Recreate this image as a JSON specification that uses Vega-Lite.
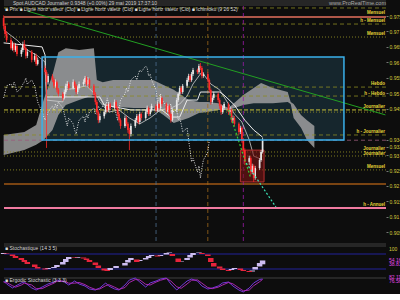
{
"$schema": "https://vega.github.io/schema/vega-lite/v6.json",
"background": "#0d0d0d",
"padding": 0,
"width": 382,
"height": 293,
"view": {"stroke": null},
"resolve": {"scale": {"y": "independent"}},
"data": {"values": [{"v": 0.9776}, {"v": 0.9724}, {"v": 0.952}, {"v": 0.9491}, {"v": 0.9365}]},
"layer": [
  {"data": {"values": [{"d": "2018-12-05T06:00:00Z", "d2": "2019-08-20T10:00:00Z", "v": 0.98018, "v2": 0.97824}]},
   "mark": {"type": "rect", "color": "#262626"},
   "encoding": {"x": {"field": "d", "type": "temporal", "scale": {"domain": [1543989600000, 1566295200000]}, "axis": null}, "x2": {"field": "d2"},
     "y": {"field": "v", "type": "quantitative", "scale": {"domain": [0.88536, 0.98018], "nice": false, "zero": false}, "axis": null}, "y2": {"field": "v2"}}},
  {"data": {"values": [{"d": "2018-12-05T06:00:00Z", "d2": "2019-08-20T10:00:00Z", "v": 0.90154, "v2": 0.90024}, {"d": "2018-12-05T06:00:00Z", "d2": "2019-08-20T10:00:00Z", "v": 0.89056, "v2": 0.88992}]},
   "mark": {"type": "rect", "color": "#262626"},
   "encoding": {"x": {"field": "d", "type": "temporal", "scale": {"domain": [1543989600000, 1566295200000]}, "axis": null}, "x2": {"field": "d2"},
     "y": {"field": "v", "type": "quantitative", "scale": {"domain": [0.88536, 0.98018], "nice": false, "zero": false}, "axis": null}, "y2": {"field": "v2"}}},
  {"data": {"values": [{"d": "2018-12-31", "d2": "2019-07-23", "v": 0.9617, "v2": 0.9349}]},
   "mark": {"type": "rect", "color": "#1f3f4e", "opacity": 0.5},
   "encoding": {"x": {"field": "d", "type": "temporal", "scale": {"domain": [1543989600000, 1566295200000]}, "axis": null}, "x2": {"field": "d2"},
     "y": {"field": "v", "type": "quantitative", "scale": {"domain": [0.88536, 0.98018], "nice": false, "zero": false}, "axis": null}, "y2": {"field": "v2"}}},
  {"data": {"values": [
{"d":"2018-12-05","a":0.9365,"b":0.9300},{"d":"2018-12-19","a":0.9375,"b":0.9316},{"d":"2018-12-27","a":0.9397,"b":0.9333},{"d":"2019-01-01","a":0.9478,"b":0.9349},{"d":"2019-01-07","a":0.9559,"b":0.9381},{"d":"2019-01-11","a":0.9633,"b":0.9430},{"d":"2019-01-16","a":0.9646,"b":0.9462},{"d":"2019-01-25","a":0.9640,"b":0.9478},{"d":"2019-02-04","a":0.9646,"b":0.9494},{"d":"2019-02-06","a":0.9543,"b":0.9494},{"d":"2019-02-10","a":0.9536,"b":0.9462},{"d":"2019-02-17","a":0.9543,"b":0.9456},{"d":"2019-03-03","a":0.9543,"b":0.9452},{"d":"2019-03-16","a":0.9543,"b":0.9452},{"d":"2019-03-23","a":0.9527,"b":0.9430},{"d":"2019-03-30","a":0.9511,"b":0.9404},{"d":"2019-04-09","a":0.9478,"b":0.9420},{"d":"2019-04-16","a":0.9472,"b":0.9436},{"d":"2019-04-22","a":0.9472,"b":0.9439},{"d":"2019-04-29","a":0.9468,"b":0.9446},{"d":"2019-05-06","a":0.9452,"b":0.9446},{"d":"2019-05-16","a":0.9494,"b":0.9462},{"d":"2019-05-23","a":0.9517,"b":0.9468},{"d":"2019-05-28","a":0.9533,"b":0.9468},{"d":"2019-06-05","a":0.9517,"b":0.9468},{"d":"2019-06-15","a":0.9504,"b":0.9472},{"d":"2019-06-17","a":0.9472,"b":0.9465},{"d":"2019-06-19","a":0.9465,"b":0.9420},{"d":"2019-06-24","a":0.9430,"b":0.9388},{"d":"2019-06-28","a":0.9413,"b":0.9349},{"d":"2019-07-03","a":0.9394,"b":0.9323}
   ]},
   "mark": {"type": "area", "color": "#a4a4a4", "opacity": 0.82},
   "encoding": {"x": {"field": "d", "type": "temporal", "scale": {"domain": [1543989600000, 1566295200000]}, "axis": null},
     "y": {"field": "a", "type": "quantitative", "scale": {"domain": [0.88536, 0.98018], "nice": false, "zero": false}, "axis": null}, "y2": {"field": "b"}}},
  {"data": {"values": [{"v": 0.9776}, {"v": 0.9724}, {"v": 0.952}, {"v": 0.9491}, {"v": 0.9365}]},
   "mark": {"type": "rule", "color": "#8c8a22", "strokeDash": [4, 3], "strokeWidth": 0.8},
   "encoding": {"y": {"field": "v", "type": "quantitative", "scale": {"domain": [0.88536, 0.98018], "nice": false, "zero": false},
     "axis": {"orient": "right", "values": [0.975, 0.97, 0.965, 0.96, 0.955, 0.95, 0.945, 0.9349, 0.9327, 0.93, 0.925, 0.92, 0.915, 0.91, 0.905], "format": ".4~f", "labelFontSize": 5, "labelColor": "#d9cc3c", "tickColor": "#777777", "tickSize": 2, "domain": false, "grid": false, "labelPadding": 1, "title": null}}}},
  {"data": {"values": [{"v": 0.9446}]},
   "mark": {"type": "rule", "color": "#c9c23a", "strokeDash": [4, 2], "strokeWidth": 1},
   "encoding": {"y": {"field": "v", "type": "quantitative", "scale": {"domain": [0.88536, 0.98018], "nice": false, "zero": false}, "axis": null}}},
  {"data": {"values": [{"v": 0.9682}, {"v": 0.9439}, {"v": 0.931}, {"v": 0.9297}, {"v": 0.9252}]},
   "mark": {"type": "rule", "color": "#8c8a22", "strokeDash": [1, 2], "strokeWidth": 0.9},
   "encoding": {"y": {"field": "v", "type": "quantitative", "scale": {"domain": [0.88536, 0.98018], "nice": false, "zero": false}, "axis": null}}},
  {"data": {"values": [{"v": 0.9747}]},
   "mark": {"type": "rule", "color": "#e4705e", "strokeWidth": 1.5},
   "encoding": {"y": {"field": "v", "type": "quantitative", "scale": {"domain": [0.88536, 0.98018], "nice": false, "zero": false}, "axis": null}}},
  {"data": {"values": [{"v": 0.9206}]},
   "mark": {"type": "rule", "color": "#7a4412", "strokeWidth": 2},
   "encoding": {"y": {"field": "v", "type": "quantitative", "scale": {"domain": [0.88536, 0.98018], "nice": false, "zero": false}, "axis": null}}},
  {"data": {"values": [{"v": 0.9129}]},
   "mark": {"type": "rule", "color": "#f07aa0", "strokeWidth": 2},
   "encoding": {"y": {"field": "v", "type": "quantitative", "scale": {"domain": [0.88536, 0.98018], "nice": false, "zero": false}, "axis": null}}},
  {"data": {"values": [{"v": 0.9348}]},
   "mark": {"type": "rule", "color": "#9a5a7a", "strokeDash": [4, 3], "strokeWidth": 0.8},
   "encoding": {"y": {"field": "v", "type": "quantitative", "scale": {"domain": [0.88536, 0.98018], "nice": false, "zero": false}, "axis": null}}},
  {"data": {"values": [{"d": "2019-03-18", "v": 0.97824, "v2": 0.90154}]},
   "mark": {"type": "rule", "color": "#4f6f8f", "strokeDash": [4, 3], "strokeWidth": 0.8},
   "encoding": {"x": {"field": "d", "type": "temporal", "scale": {"domain": [1543989600000, 1566295200000]}, "axis": null},
     "y": {"field": "v", "type": "quantitative", "scale": {"domain": [0.88536, 0.98018], "nice": false, "zero": false}, "axis": null}, "y2": {"field": "v2"}}},
  {"data": {"values": [{"d": "2019-04-22", "v": 0.97824, "v2": 0.90154}]},
   "mark": {"type": "rule", "color": "#a06a1c", "strokeDash": [4, 3], "strokeWidth": 0.8},
   "encoding": {"x": {"field": "d", "type": "temporal", "scale": {"domain": [1543989600000, 1566295200000]}, "axis": null},
     "y": {"field": "v", "type": "quantitative", "scale": {"domain": [0.88536, 0.98018], "nice": false, "zero": false}, "axis": null}, "y2": {"field": "v2"}}},
  {"data": {"values": [{"d": "2019-05-16", "v": 0.97824, "v2": 0.90154}]},
   "mark": {"type": "rule", "color": "#9a1aa8", "strokeDash": [4, 3], "strokeWidth": 0.8},
   "encoding": {"x": {"field": "d", "type": "temporal", "scale": {"domain": [1543989600000, 1566295200000]}, "axis": null},
     "y": {"field": "v", "type": "quantitative", "scale": {"domain": [0.88536, 0.98018], "nice": false, "zero": false}, "axis": null}, "y2": {"field": "v2"}}},
  {"data": {"values": [{"d": "2018-12-21", "v": 0.9766}, {"d": "2019-08-20", "v": 0.943}]},
   "mark": {"type": "line", "color": "#22a022", "strokeWidth": 1},
   "encoding": {"x": {"field": "d", "type": "temporal", "scale": {"domain": [1543989600000, 1566295200000]}, "axis": null},
     "y": {"field": "v", "type": "quantitative", "scale": {"domain": [0.88536, 0.98018], "nice": false, "zero": false}, "axis": null}}},
  {"data": {"values": [
{"d":"2018-12-05","v":0.9663},{"d":"2018-12-31","v":0.9650},{"d":"2019-01-02","v":0.9624},{"d":"2019-01-03","v":0.9488},{"d":"2019-02-08","v":0.9488},{"d":"2019-02-11","v":0.9462},{"d":"2019-03-01","v":0.9446},{"d":"2019-03-22","v":0.9446},{"d":"2019-03-28","v":0.9423},{"d":"2019-04-03","v":0.9423},{"d":"2019-04-08","v":0.9478},{"d":"2019-04-15","v":0.9478},{"d":"2019-04-17","v":0.9504},{"d":"2019-04-30","v":0.9504},{"d":"2019-05-03","v":0.9494},{"d":"2019-05-10","v":0.9462},{"d":"2019-05-17","v":0.9413},{"d":"2019-05-23","v":0.9381},{"d":"2019-05-29","v":0.9358}
   ]},
   "mark": {"type": "line", "color": "#ececec", "strokeWidth": 1},
   "encoding": {"x": {"field": "d", "type": "temporal", "scale": {"domain": [1543989600000, 1566295200000]}, "axis": null},
     "y": {"field": "v", "type": "quantitative", "scale": {"domain": [0.88536, 0.98018], "nice": false, "zero": false}, "axis": null}}},
  {"data": {"values": [
{"d":"2018-12-05","v":0.9705},{"d":"2018-12-14","v":0.9672},{"d":"2018-12-21","v":0.9640},{"d":"2018-12-28","v":0.9621},{"d":"2019-01-02","v":0.9601},{"d":"2019-01-03","v":0.9478},{"d":"2019-01-14","v":0.9472},{"d":"2019-01-16","v":0.9511},{"d":"2019-01-23","v":0.9517},{"d":"2019-01-30","v":0.9524},{"d":"2019-02-06","v":0.9491},{"d":"2019-02-08","v":0.9472},{"d":"2019-02-14","v":0.9439},{"d":"2019-02-21","v":0.9446},{"d":"2019-02-28","v":0.9420},{"d":"2019-03-07","v":0.9401},{"d":"2019-03-14","v":0.9420},{"d":"2019-03-21","v":0.9446},{"d":"2019-03-28","v":0.9452},{"d":"2019-04-03","v":0.9465},{"d":"2019-04-08","v":0.9491},{"d":"2019-04-12","v":0.9530},{"d":"2019-04-18","v":0.9569},{"d":"2019-04-24","v":0.9530},{"d":"2019-04-30","v":0.9511},{"d":"2019-05-06","v":0.9465},{"d":"2019-05-10","v":0.9433},{"d":"2019-05-15","v":0.9407},{"d":"2019-05-20","v":0.9349},{"d":"2019-05-23","v":0.9297},{"d":"2019-05-29","v":0.9284}
   ]},
   "mark": {"type": "line", "color": "#cfcfcf", "strokeWidth": 0.8},
   "encoding": {"x": {"field": "d", "type": "temporal", "scale": {"domain": [1543989600000, 1566295200000]}, "axis": null},
     "y": {"field": "v", "type": "quantitative", "scale": {"domain": [0.88536, 0.98018], "nice": false, "zero": false}, "axis": null}}},
  {"data": {"values": [
{"d":"2018-12-05","v":0.9485},{"d":"2018-12-06","v":0.9504},{"d":"2018-12-07","v":0.9524},{"d":"2018-12-10","v":0.9530},{"d":"2018-12-11","v":0.9517},{"d":"2018-12-12","v":0.9536},{"d":"2018-12-13","v":0.9524},{"d":"2018-12-14","v":0.9504},{"d":"2018-12-17","v":0.9517},{"d":"2018-12-18","v":0.9530},{"d":"2018-12-19","v":0.9536},{"d":"2018-12-20","v":0.9549},{"d":"2018-12-21","v":0.9530},{"d":"2018-12-24","v":0.9543},{"d":"2018-12-26","v":0.9524},{"d":"2018-12-27","v":0.9498},{"d":"2018-12-28","v":0.9472},{"d":"2018-12-31","v":0.9439},{"d":"2019-01-02","v":0.9413},{"d":"2019-01-03","v":0.9426},{"d":"2019-01-04","v":0.9439},{"d":"2019-01-07","v":0.9459},{"d":"2019-01-08","v":0.9446},{"d":"2019-01-09","v":0.9465},{"d":"2019-01-10","v":0.9452},{"d":"2019-01-11","v":0.9472},{"d":"2019-01-14","v":0.9452},{"d":"2019-01-15","v":0.9433},{"d":"2019-01-16","v":0.9413},{"d":"2019-01-17","v":0.9394},{"d":"2019-01-18","v":0.9420},{"d":"2019-01-21","v":0.9401},{"d":"2019-01-22","v":0.9381},{"d":"2019-01-23","v":0.9368},{"d":"2019-01-24","v":0.9394},{"d":"2019-01-25","v":0.9413},{"d":"2019-01-28","v":0.9426},{"d":"2019-01-29","v":0.9407},{"d":"2019-01-30","v":0.9433},{"d":"2019-01-31","v":0.9420},{"d":"2019-02-01","v":0.9439},{"d":"2019-02-04","v":0.9452},{"d":"2019-02-05","v":0.9433},{"d":"2019-02-06","v":0.9446},{"d":"2019-02-07","v":0.9459},{"d":"2019-02-08","v":0.9446},{"d":"2019-02-11","v":0.9465},{"d":"2019-02-12","v":0.9452},{"d":"2019-02-13","v":0.9485},{"d":"2019-02-14","v":0.9465},{"d":"2019-02-15","v":0.9446},{"d":"2019-02-18","v":0.9459},{"d":"2019-02-19","v":0.9433},{"d":"2019-02-20","v":0.9413},{"d":"2019-02-21","v":0.9446},{"d":"2019-02-22","v":0.9478},{"d":"2019-02-25","v":0.9498},{"d":"2019-02-26","v":0.9517},{"d":"2019-02-27","v":0.9504},{"d":"2019-02-28","v":0.9524},{"d":"2019-03-01","v":0.9543},{"d":"2019-03-04","v":0.9556},{"d":"2019-03-05","v":0.9543},{"d":"2019-03-06","v":0.9562},{"d":"2019-03-07","v":0.9575},{"d":"2019-03-08","v":0.9569},{"d":"2019-03-11","v":0.9588},{"d":"2019-03-12","v":0.9582},{"d":"2019-03-13","v":0.9556},{"d":"2019-03-14","v":0.9562},{"d":"2019-03-15","v":0.9543},{"d":"2019-03-18","v":0.9511},{"d":"2019-03-19","v":0.9472},{"d":"2019-03-20","v":0.9485},{"d":"2019-03-21","v":0.9498},{"d":"2019-03-22","v":0.9478},{"d":"2019-03-25","v":0.9459},{"d":"2019-03-26","v":0.9439},{"d":"2019-03-27","v":0.9452},{"d":"2019-03-28","v":0.9465},{"d":"2019-03-29","v":0.9439},{"d":"2019-04-01","v":0.9446},{"d":"2019-04-02","v":0.9413},{"d":"2019-04-03","v":0.9420},{"d":"2019-04-04","v":0.9401},{"d":"2019-04-05","v":0.9375},{"d":"2019-04-08","v":0.9388},{"d":"2019-04-09","v":0.9349},{"d":"2019-04-10","v":0.9316},{"d":"2019-04-11","v":0.9278},{"d":"2019-04-12","v":0.9290},{"d":"2019-04-15","v":0.9245},{"d":"2019-04-16","v":0.9265},{"d":"2019-04-17","v":0.9226},{"d":"2019-04-18","v":0.9258},{"d":"2019-04-19","v":0.9284},{"d":"2019-04-22","v":0.9310},{"d":"2019-04-23","v":0.9348}
   ]},
   "mark": {"type": "line", "color": "#e6e6e6", "strokeWidth": 1, "strokeDash": [1, 1.5]},
   "encoding": {"x": {"field": "d", "type": "temporal", "scale": {"domain": [1543989600000, 1566295200000]}, "axis": null},
     "y": {"field": "v", "type": "quantitative", "scale": {"domain": [0.88536, 0.98018], "nice": false, "zero": false}, "axis": null}}},
  {"data": {"values": [{"d": "2019-05-14", "d2": "2019-05-30", "v": 0.9316, "v2": 0.9213}]},
   "mark": {"type": "rect", "fill": "#7a1414", "fillOpacity": 0.6, "stroke": "#b83030", "strokeWidth": 1},
   "encoding": {"x": {"field": "d", "type": "temporal", "scale": {"domain": [1543989600000, 1566295200000]}, "axis": null}, "x2": {"field": "d2"},
     "y": {"field": "v", "type": "quantitative", "scale": {"domain": [0.88536, 0.98018], "nice": false, "zero": false}, "axis": null}, "y2": {"field": "v2"}}},
  {"data": {"values": [
{"d":"2018-12-11","o":0.9646,"h":0.9668,"l":0.9638,"c":0.9659},{"d":"2018-12-13","o":0.9640,"h":0.9662,"l":0.9634,"c":0.9653},{"d":"2018-12-17","o":0.9627,"h":0.9648,"l":0.9618,"c":0.9640},{"d":"2018-12-18","o":0.9640,"h":0.9667,"l":0.9633,"c":0.9659},{"d":"2018-12-21","o":0.9621,"h":0.9643,"l":0.9614,"c":0.9634},{"d":"2018-12-26","o":0.9608,"h":0.9630,"l":0.9602,"c":0.9621},{"d":"2018-12-28","o":0.9595,"h":0.9616,"l":0.9590,"c":0.9608},{"d":"2019-01-04","o":0.9536,"h":0.9563,"l":0.9528,"c":0.9556},{"d":"2019-01-09","o":0.9524,"h":0.9545,"l":0.9518,"c":0.9536},{"d":"2019-01-15","o":0.9485,"h":0.9512,"l":0.9480,"c":0.9504},{"d":"2019-01-16","o":0.9504,"h":0.9531,"l":0.9498,"c":0.9524},{"d":"2019-01-17","o":0.9524,"h":0.9540,"l":0.9516,"c":0.9530},{"d":"2019-01-21","o":0.9517,"h":0.9545,"l":0.9512,"c":0.9536},{"d":"2019-01-24","o":0.9504,"h":0.9525,"l":0.9498,"c":0.9517},{"d":"2019-01-25","o":0.9517,"h":0.9538,"l":0.9512,"c":0.9530},{"d":"2019-01-28","o":0.9530,"h":0.9545,"l":0.9524,"c":0.9536},{"d":"2019-01-29","o":0.9536,"h":0.9556,"l":0.9530,"c":0.9549},{"d":"2019-01-31","o":0.9530,"h":0.9552,"l":0.9525,"c":0.9543},{"d":"2019-02-08","o":0.9413,"h":0.9434,"l":0.9405,"c":0.9426},{"d":"2019-02-11","o":0.9426,"h":0.9447,"l":0.9418,"c":0.9439},{"d":"2019-02-12","o":0.9439,"h":0.9467,"l":0.9432,"c":0.9459},{"d":"2019-02-14","o":0.9446,"h":0.9472,"l":0.9440,"c":0.9465},{"d":"2019-02-18","o":0.9452,"h":0.9480,"l":0.9447,"c":0.9472},{"d":"2019-02-25","o":0.9394,"h":0.9428,"l":0.9388,"c":0.9420},{"d":"2019-03-01","o":0.9368,"h":0.9402,"l":0.9360,"c":0.9394},{"d":"2019-03-04","o":0.9394,"h":0.9420,"l":0.9388,"c":0.9413},{"d":"2019-03-05","o":0.9413,"h":0.9433,"l":0.9406,"c":0.9426},{"d":"2019-03-07","o":0.9407,"h":0.9440,"l":0.9400,"c":0.9433},{"d":"2019-03-11","o":0.9420,"h":0.9446,"l":0.9414,"c":0.9439},{"d":"2019-03-12","o":0.9439,"h":0.9460,"l":0.9433,"c":0.9452},{"d":"2019-03-14","o":0.9433,"h":0.9453,"l":0.9427,"c":0.9446},{"d":"2019-03-15","o":0.9446,"h":0.9466,"l":0.9440,"c":0.9459},{"d":"2019-03-19","o":0.9446,"h":0.9472,"l":0.9440,"c":0.9465},{"d":"2019-03-21","o":0.9452,"h":0.9492,"l":0.9446,"c":0.9485},{"d":"2019-03-26","o":0.9446,"h":0.9466,"l":0.9440,"c":0.9459},{"d":"2019-03-29","o":0.9413,"h":0.9452,"l":0.9408,"c":0.9446},{"d":"2019-04-01","o":0.9446,"h":0.9485,"l":0.9440,"c":0.9478},{"d":"2019-04-02","o":0.9478,"h":0.9505,"l":0.9472,"c":0.9498},{"d":"2019-04-03","o":0.9498,"h":0.9524,"l":0.9492,"c":0.9517},{"d":"2019-04-05","o":0.9504,"h":0.9530,"l":0.9498,"c":0.9524},{"d":"2019-04-08","o":0.9524,"h":0.9550,"l":0.9518,"c":0.9543},{"d":"2019-04-09","o":0.9543,"h":0.9563,"l":0.9537,"c":0.9556},{"d":"2019-04-11","o":0.9543,"h":0.9569,"l":0.9537,"c":0.9562},{"d":"2019-04-12","o":0.9562,"h":0.9582,"l":0.9556,"c":0.9575},{"d":"2019-04-16","o":0.9569,"h":0.9595,"l":0.9563,"c":0.9588},{"d":"2019-04-19","o":0.9556,"h":0.9568,"l":0.9550,"c":0.9562},{"d":"2019-04-25","o":0.9472,"h":0.9493,"l":0.9466,"c":0.9485},{"d":"2019-04-26","o":0.9485,"h":0.9505,"l":0.9478,"c":0.9498},{"d":"2019-05-02","o":0.9439,"h":0.9460,"l":0.9433,"c":0.9452},{"d":"2019-05-03","o":0.9452,"h":0.9472,"l":0.9446,"c":0.9465},{"d":"2019-05-07","o":0.9439,"h":0.9453,"l":0.9432,"c":0.9446},{"d":"2019-05-09","o":0.9413,"h":0.9428,"l":0.9404,"c":0.9420},{"d":"2019-05-14","o":0.9375,"h":0.9395,"l":0.9368,"c":0.9388},{"d":"2019-05-20","o":0.9278,"h":0.9298,"l":0.9268,"c":0.9290},{"d":"2019-05-22","o":0.9245,"h":0.9272,"l":0.9238,"c":0.9265},{"d":"2019-05-24","o":0.9226,"h":0.9265,"l":0.9220,"c":0.9258},{"d":"2019-05-27","o":0.9258,"h":0.9290,"l":0.9252,"c":0.9284},{"d":"2019-05-28","o":0.9284,"h":0.9316,"l":0.9278,"c":0.9310},{"d":"2019-05-29","o":0.9310,"h":0.9356,"l":0.9305,"c":0.9348}
   ]},
   "mark": {"type": "rule", "color": "#e8e8e8", "strokeWidth": 0.8},
   "encoding": {"x": {"field": "d", "type": "temporal", "scale": {"domain": [1543989600000, 1566295200000]}, "axis": null},
     "y": {"field": "l", "type": "quantitative", "scale": {"domain": [0.88536, 0.98018], "nice": false, "zero": false}, "axis": null}, "y2": {"field": "h"}}},
  {"data": {"values": [
{"d":"2018-12-11","o":0.9646,"c":0.9659},{"d":"2018-12-13","o":0.9640,"c":0.9653},{"d":"2018-12-17","o":0.9627,"c":0.9640},{"d":"2018-12-18","o":0.9640,"c":0.9659},{"d":"2018-12-21","o":0.9621,"c":0.9634},{"d":"2018-12-26","o":0.9608,"c":0.9621},{"d":"2018-12-28","o":0.9595,"c":0.9608},{"d":"2019-01-04","o":0.9536,"c":0.9556},{"d":"2019-01-09","o":0.9524,"c":0.9536},{"d":"2019-01-15","o":0.9485,"c":0.9504},{"d":"2019-01-16","o":0.9504,"c":0.9524},{"d":"2019-01-17","o":0.9524,"c":0.9530},{"d":"2019-01-21","o":0.9517,"c":0.9536},{"d":"2019-01-24","o":0.9504,"c":0.9517},{"d":"2019-01-25","o":0.9517,"c":0.9530},{"d":"2019-01-28","o":0.9530,"c":0.9536},{"d":"2019-01-29","o":0.9536,"c":0.9549},{"d":"2019-01-31","o":0.9530,"c":0.9543},{"d":"2019-02-08","o":0.9413,"c":0.9426},{"d":"2019-02-11","o":0.9426,"c":0.9439},{"d":"2019-02-12","o":0.9439,"c":0.9459},{"d":"2019-02-14","o":0.9446,"c":0.9465},{"d":"2019-02-18","o":0.9452,"c":0.9472},{"d":"2019-02-25","o":0.9394,"c":0.9420},{"d":"2019-03-01","o":0.9368,"c":0.9394},{"d":"2019-03-04","o":0.9394,"c":0.9413},{"d":"2019-03-05","o":0.9413,"c":0.9426},{"d":"2019-03-07","o":0.9407,"c":0.9433},{"d":"2019-03-11","o":0.9420,"c":0.9439},{"d":"2019-03-12","o":0.9439,"c":0.9452},{"d":"2019-03-14","o":0.9433,"c":0.9446},{"d":"2019-03-15","o":0.9446,"c":0.9459},{"d":"2019-03-19","o":0.9446,"c":0.9465},{"d":"2019-03-21","o":0.9452,"c":0.9485},{"d":"2019-03-26","o":0.9446,"c":0.9459},{"d":"2019-03-29","o":0.9413,"c":0.9446},{"d":"2019-04-01","o":0.9446,"c":0.9478},{"d":"2019-04-02","o":0.9478,"c":0.9498},{"d":"2019-04-03","o":0.9498,"c":0.9517},{"d":"2019-04-05","o":0.9504,"c":0.9524},{"d":"2019-04-08","o":0.9524,"c":0.9543},{"d":"2019-04-09","o":0.9543,"c":0.9556},{"d":"2019-04-11","o":0.9543,"c":0.9562},{"d":"2019-04-12","o":0.9562,"c":0.9575},{"d":"2019-04-16","o":0.9569,"c":0.9588},{"d":"2019-04-19","o":0.9556,"c":0.9562},{"d":"2019-04-25","o":0.9472,"c":0.9485},{"d":"2019-04-26","o":0.9485,"c":0.9498},{"d":"2019-05-02","o":0.9439,"c":0.9452},{"d":"2019-05-03","o":0.9452,"c":0.9465},{"d":"2019-05-07","o":0.9439,"c":0.9446},{"d":"2019-05-09","o":0.9413,"c":0.9420},{"d":"2019-05-14","o":0.9375,"c":0.9388},{"d":"2019-05-20","o":0.9278,"c":0.9290},{"d":"2019-05-22","o":0.9245,"c":0.9265},{"d":"2019-05-24","o":0.9226,"c":0.9258},{"d":"2019-05-27","o":0.9258,"c":0.9284},{"d":"2019-05-28","o":0.9284,"c":0.9310},{"d":"2019-05-29","o":0.9310,"c":0.9348}
   ]},
   "mark": {"type": "rule", "color": "#e8e8e8", "strokeWidth": 1.7},
   "encoding": {"x": {"field": "d", "type": "temporal", "scale": {"domain": [1543989600000, 1566295200000]}, "axis": null},
     "y": {"field": "o", "type": "quantitative", "scale": {"domain": [0.88536, 0.98018], "nice": false, "zero": false}, "axis": null}, "y2": {"field": "c"}}},
  {"data": {"values": [
{"d":"2018-12-05","o":0.9744,"h":0.9752,"l":0.9708,"c":0.9718},{"d":"2018-12-06","o":0.9718,"h":0.9724,"l":0.9684,"c":0.9692},{"d":"2018-12-07","o":0.9692,"h":0.9701,"l":0.9665,"c":0.9672},{"d":"2018-12-10","o":0.9672,"h":0.9679,"l":0.9640,"c":0.9646},{"d":"2018-12-12","o":0.9659,"h":0.9665,"l":0.9632,"c":0.9640},{"d":"2018-12-14","o":0.9653,"h":0.9658,"l":0.9620,"c":0.9627},{"d":"2018-12-19","o":0.9659,"h":0.9672,"l":0.9640,"c":0.9646},{"d":"2018-12-20","o":0.9646,"h":0.9652,"l":0.9612,"c":0.9621},{"d":"2018-12-24","o":0.9634,"h":0.9640,"l":0.9600,"c":0.9608},{"d":"2018-12-27","o":0.9621,"h":0.9628,"l":0.9588,"c":0.9595},{"d":"2018-12-31","o":0.9608,"h":0.9612,"l":0.9575,"c":0.9582},{"d":"2019-01-02","o":0.9582,"h":0.9590,"l":0.9560,"c":0.9569},{"d":"2019-01-03","o":0.9569,"h":0.9575,"l":0.9323,"c":0.9536},{"d":"2019-01-07","o":0.9556,"h":0.9562,"l":0.9536,"c":0.9543},{"d":"2019-01-08","o":0.9543,"h":0.9550,"l":0.9516,"c":0.9524},{"d":"2019-01-10","o":0.9536,"h":0.9541,"l":0.9503,"c":0.9511},{"d":"2019-01-11","o":0.9511,"h":0.9517,"l":0.9490,"c":0.9498},{"d":"2019-01-14","o":0.9498,"h":0.9504,"l":0.9476,"c":0.9485},{"d":"2019-01-18","o":0.9530,"h":0.9536,"l":0.9510,"c":0.9517},{"d":"2019-01-22","o":0.9536,"h":0.9541,"l":0.9517,"c":0.9524},{"d":"2019-01-23","o":0.9524,"h":0.9530,"l":0.9496,"c":0.9504},{"d":"2019-01-30","o":0.9549,"h":0.9555,"l":0.9523,"c":0.9530},{"d":"2019-02-01","o":0.9543,"h":0.9548,"l":0.9516,"c":0.9524},{"d":"2019-02-04","o":0.9524,"h":0.9530,"l":0.9490,"c":0.9498},{"d":"2019-02-05","o":0.9498,"h":0.9504,"l":0.9463,"c":0.9472},{"d":"2019-02-06","o":0.9472,"h":0.9478,"l":0.9430,"c":0.9439},{"d":"2019-02-07","o":0.9439,"h":0.9445,"l":0.9403,"c":0.9413},{"d":"2019-02-13","o":0.9459,"h":0.9466,"l":0.9438,"c":0.9446},{"d":"2019-02-15","o":0.9465,"h":0.9470,"l":0.9445,"c":0.9452},{"d":"2019-02-19","o":0.9472,"h":0.9478,"l":0.9444,"c":0.9452},{"d":"2019-02-20","o":0.9452,"h":0.9458,"l":0.9425,"c":0.9433},{"d":"2019-02-21","o":0.9433,"h":0.9440,"l":0.9405,"c":0.9413},{"d":"2019-02-22","o":0.9413,"h":0.9419,"l":0.9385,"c":0.9394},{"d":"2019-02-26","o":0.9420,"h":0.9426,"l":0.9393,"c":0.9401},{"d":"2019-02-27","o":0.9401,"h":0.9407,"l":0.9372,"c":0.9381},{"d":"2019-02-28","o":0.9381,"h":0.9388,"l":0.9316,"c":0.9368},{"d":"2019-03-06","o":0.9426,"h":0.9432,"l":0.9400,"c":0.9407},{"d":"2019-03-08","o":0.9433,"h":0.9438,"l":0.9412,"c":0.9420},{"d":"2019-03-13","o":0.9452,"h":0.9457,"l":0.9426,"c":0.9433},{"d":"2019-03-18","o":0.9459,"h":0.9465,"l":0.9439,"c":0.9446},{"d":"2019-03-20","o":0.9465,"h":0.9470,"l":0.9445,"c":0.9452},{"d":"2019-03-22","o":0.9485,"h":0.9490,"l":0.9457,"c":0.9465},{"d":"2019-03-25","o":0.9465,"h":0.9470,"l":0.9438,"c":0.9446},{"d":"2019-03-27","o":0.9459,"h":0.9464,"l":0.9425,"c":0.9433},{"d":"2019-03-28","o":0.9433,"h":0.9438,"l":0.9405,"c":0.9413},{"d":"2019-04-04","o":0.9517,"h":0.9522,"l":0.9497,"c":0.9504},{"d":"2019-04-10","o":0.9556,"h":0.9562,"l":0.9536,"c":0.9543},{"d":"2019-04-15","o":0.9575,"h":0.9580,"l":0.9562,"c":0.9569},{"d":"2019-04-17","o":0.9588,"h":0.9598,"l":0.9575,"c":0.9582},{"d":"2019-04-18","o":0.9582,"h":0.9588,"l":0.9548,"c":0.9556},{"d":"2019-04-22","o":0.9562,"h":0.9568,"l":0.9536,"c":0.9543},{"d":"2019-04-23","o":0.9543,"h":0.9548,"l":0.9503,"c":0.9511},{"d":"2019-04-24","o":0.9511,"h":0.9516,"l":0.9463,"c":0.9472},{"d":"2019-04-29","o":0.9498,"h":0.9503,"l":0.9471,"c":0.9478},{"d":"2019-04-30","o":0.9478,"h":0.9484,"l":0.9450,"c":0.9459},{"d":"2019-05-01","o":0.9459,"h":0.9465,"l":0.9430,"c":0.9439},{"d":"2019-05-06","o":0.9465,"h":0.9470,"l":0.9430,"c":0.9439},{"d":"2019-05-08","o":0.9446,"h":0.9451,"l":0.9405,"c":0.9413},{"d":"2019-05-10","o":0.9420,"h":0.9426,"l":0.9393,"c":0.9401},{"d":"2019-05-13","o":0.9401,"h":0.9406,"l":0.9366,"c":0.9375},{"d":"2019-05-15","o":0.9388,"h":0.9393,"l":0.9340,"c":0.9349},{"d":"2019-05-16","o":0.9349,"h":0.9355,"l":0.9307,"c":0.9316},{"d":"2019-05-17","o":0.9316,"h":0.9322,"l":0.9268,"c":0.9278},{"d":"2019-05-21","o":0.9290,"h":0.9296,"l":0.9236,"c":0.9245},{"d":"2019-05-23","o":0.9265,"h":0.9270,"l":0.9213,"c":0.9226}
   ]},
   "mark": {"type": "rule", "color": "#ff2a2a", "strokeWidth": 0.8},
   "encoding": {"x": {"field": "d", "type": "temporal", "scale": {"domain": [1543989600000, 1566295200000]}, "axis": null},
     "y": {"field": "l", "type": "quantitative", "scale": {"domain": [0.88536, 0.98018], "nice": false, "zero": false}, "axis": null}, "y2": {"field": "h"}}},
  {"data": {"values": [
{"d":"2018-12-05","o":0.9744,"c":0.9718},{"d":"2018-12-06","o":0.9718,"c":0.9692},{"d":"2018-12-07","o":0.9692,"c":0.9672},{"d":"2018-12-10","o":0.9672,"c":0.9646},{"d":"2018-12-12","o":0.9659,"c":0.9640},{"d":"2018-12-14","o":0.9653,"c":0.9627},{"d":"2018-12-19","o":0.9659,"c":0.9646},{"d":"2018-12-20","o":0.9646,"c":0.9621},{"d":"2018-12-24","o":0.9634,"c":0.9608},{"d":"2018-12-27","o":0.9621,"c":0.9595},{"d":"2018-12-31","o":0.9608,"c":0.9582},{"d":"2019-01-02","o":0.9582,"c":0.9569},{"d":"2019-01-03","o":0.9569,"c":0.9536},{"d":"2019-01-07","o":0.9556,"c":0.9543},{"d":"2019-01-08","o":0.9543,"c":0.9524},{"d":"2019-01-10","o":0.9536,"c":0.9511},{"d":"2019-01-11","o":0.9511,"c":0.9498},{"d":"2019-01-14","o":0.9498,"c":0.9485},{"d":"2019-01-18","o":0.9530,"c":0.9517},{"d":"2019-01-22","o":0.9536,"c":0.9524},{"d":"2019-01-23","o":0.9524,"c":0.9504},{"d":"2019-01-30","o":0.9549,"c":0.9530},{"d":"2019-02-01","o":0.9543,"c":0.9524},{"d":"2019-02-04","o":0.9524,"c":0.9498},{"d":"2019-02-05","o":0.9498,"c":0.9472},{"d":"2019-02-06","o":0.9472,"c":0.9439},{"d":"2019-02-07","o":0.9439,"c":0.9413},{"d":"2019-02-13","o":0.9459,"c":0.9446},{"d":"2019-02-15","o":0.9465,"c":0.9452},{"d":"2019-02-19","o":0.9472,"c":0.9452},{"d":"2019-02-20","o":0.9452,"c":0.9433},{"d":"2019-02-21","o":0.9433,"c":0.9413},{"d":"2019-02-22","o":0.9413,"c":0.9394},{"d":"2019-02-26","o":0.9420,"c":0.9401},{"d":"2019-02-27","o":0.9401,"c":0.9381},{"d":"2019-02-28","o":0.9381,"c":0.9368},{"d":"2019-03-06","o":0.9426,"c":0.9407},{"d":"2019-03-08","o":0.9433,"c":0.9420},{"d":"2019-03-13","o":0.9452,"c":0.9433},{"d":"2019-03-18","o":0.9459,"c":0.9446},{"d":"2019-03-20","o":0.9465,"c":0.9452},{"d":"2019-03-22","o":0.9485,"c":0.9465},{"d":"2019-03-25","o":0.9465,"c":0.9446},{"d":"2019-03-27","o":0.9459,"c":0.9433},{"d":"2019-03-28","o":0.9433,"c":0.9413},{"d":"2019-04-04","o":0.9517,"c":0.9504},{"d":"2019-04-10","o":0.9556,"c":0.9543},{"d":"2019-04-15","o":0.9575,"c":0.9569},{"d":"2019-04-17","o":0.9588,"c":0.9582},{"d":"2019-04-18","o":0.9582,"c":0.9556},{"d":"2019-04-22","o":0.9562,"c":0.9543},{"d":"2019-04-23","o":0.9543,"c":0.9511},{"d":"2019-04-24","o":0.9511,"c":0.9472},{"d":"2019-04-29","o":0.9498,"c":0.9478},{"d":"2019-04-30","o":0.9478,"c":0.9459},{"d":"2019-05-01","o":0.9459,"c":0.9439},{"d":"2019-05-06","o":0.9465,"c":0.9439},{"d":"2019-05-08","o":0.9446,"c":0.9413},{"d":"2019-05-10","o":0.9420,"c":0.9401},{"d":"2019-05-13","o":0.9401,"c":0.9375},{"d":"2019-05-15","o":0.9388,"c":0.9349},{"d":"2019-05-16","o":0.9349,"c":0.9316},{"d":"2019-05-17","o":0.9316,"c":0.9278},{"d":"2019-05-21","o":0.9290,"c":0.9245},{"d":"2019-05-23","o":0.9265,"c":0.9226}
   ]},
   "mark": {"type": "rule", "color": "#ff2a2a", "strokeWidth": 1.7},
   "encoding": {"x": {"field": "d", "type": "temporal", "scale": {"domain": [1543989600000, 1566295200000]}, "axis": null},
     "y": {"field": "o", "type": "quantitative", "scale": {"domain": [0.88536, 0.98018], "nice": false, "zero": false}, "axis": null}, "y2": {"field": "c"}}},
  {"data": {"values": [{"d": "2019-05-06", "v": 0.9446}, {"d": "2019-05-21", "v": 0.9226}]},
   "mark": {"type": "line", "color": "#30d030", "strokeWidth": 1.2, "strokeDash": [2, 2]},
   "encoding": {"x": {"field": "d", "type": "temporal", "scale": {"domain": [1543989600000, 1566295200000]}, "axis": null},
     "y": {"field": "v", "type": "quantitative", "scale": {"domain": [0.88536, 0.98018], "nice": false, "zero": false}, "axis": null}}},
  {"data": {"values": [{"d": "2019-05-18", "v": 0.9274}, {"d": "2019-06-07", "v": 0.9132}]},
   "mark": {"type": "line", "color": "#3ce0b4", "strokeWidth": 1.2, "strokeDash": [2, 2]},
   "encoding": {"x": {"field": "d", "type": "temporal", "scale": {"domain": [1543989600000, 1566295200000]}, "axis": null},
     "y": {"field": "v", "type": "quantitative", "scale": {"domain": [0.88536, 0.98018], "nice": false, "zero": false}, "axis": null}}},
  {"data": {"values": [{"d": "2018-12-31", "d2": "2019-07-23", "v": 0.9617, "v2": 0.9349}]},
   "mark": {"type": "rect", "fillOpacity": 0, "stroke": "#3ab0ea", "strokeWidth": 1.5},
   "encoding": {"x": {"field": "d", "type": "temporal", "scale": {"domain": [1543989600000, 1566295200000]}, "axis": null}, "x2": {"field": "d2"},
     "y": {"field": "v", "type": "quantitative", "scale": {"domain": [0.88536, 0.98018], "nice": false, "zero": false}, "axis": null}, "y2": {"field": "v2"}}},
  {"data": {"values": [{"d": "2019-08-20T10:00:00Z", "v": 0.9761, "t": "Mensuel"}, {"d": "2019-08-20T10:00:00Z", "v": 0.9734, "t": "h - Mensuel"}, {"d": "2019-08-20T10:00:00Z", "v": 0.9692, "t": "Mensuel"}, {"d": "2019-08-20T10:00:00Z", "v": 0.953, "t": "Hebdo"}, {"d": "2019-08-20T10:00:00Z", "v": 0.9498, "t": "h - Hebdo"}, {"d": "2019-08-20T10:00:00Z", "v": 0.9455, "t": "Journalier"}, {"d": "2019-08-20T10:00:00Z", "v": 0.9375, "t": "h - Journalier"}, {"d": "2019-08-20T10:00:00Z", "v": 0.932, "t": "Journalier"}, {"d": "2019-08-20T10:00:00Z", "v": 0.9303, "t": "Journalier"}, {"d": "2019-08-20T10:00:00Z", "v": 0.9261, "t": "Mensuel"}, {"d": "2019-08-20T10:00:00Z", "v": 0.9138, "t": "h - Annuel"}]},
   "mark": {"type": "text", "align": "right", "baseline": "middle", "fontSize": 4.5, "fontWeight": "bold", "color": "#e8d838", "dx": -1},
   "encoding": {"x": {"field": "d", "type": "temporal", "scale": {"domain": [1543989600000, 1566295200000]}, "axis": null},
     "y": {"field": "v", "type": "quantitative", "scale": {"domain": [0.88536, 0.98018], "nice": false, "zero": false}, "axis": null}, "text": {"field": "t", "type": "nominal"}}},
  {"data": {"values": [{"d": "2018-12-05T06:00:00Z", "v": 0.98018, "t": "Spot AUDCAD Journalier 0.9348 (+0.00%) 29 mai 2019 17:37:10"}]},
   "mark": {"type": "text", "align": "left", "baseline": "top", "fontSize": 5, "color": "#cfcfcf", "dx": 9, "dy": 0.5},
   "encoding": {"x": {"field": "d", "type": "temporal", "scale": {"domain": [1543989600000, 1566295200000]}, "axis": null},
     "y": {"field": "v", "type": "quantitative", "scale": {"domain": [0.88536, 0.98018], "nice": false, "zero": false}, "axis": null}, "text": {"field": "t", "type": "nominal"}}},
  {"data": {"values": [{"d": "2019-08-20T10:00:00Z", "v": 0.98018, "t": "www.ProRealTime.com"}]},
   "mark": {"type": "text", "align": "right", "baseline": "top", "fontSize": 5.5, "color": "#a8a8a8", "dy": 0.5},
   "encoding": {"x": {"field": "d", "type": "temporal", "scale": {"domain": [1543989600000, 1566295200000]}, "axis": null},
     "y": {"field": "v", "type": "quantitative", "scale": {"domain": [0.88536, 0.98018], "nice": false, "zero": false}, "axis": null}, "text": {"field": "t", "type": "nominal"}}},
  {"data": {"values": [{"d": "2018-12-05T06:00:00Z", "v": 0.97824, "t": "■ Prix   ■ Ligne horiz valeur (Clo)   ■ Ligne horiz valeur (Clo)   ■ Ligne horiz valeur (Clo)   ■ Ichimoku (9 26 52)"}]},
   "mark": {"type": "text", "align": "left", "baseline": "top", "fontSize": 5, "color": "#d8d8d8", "dx": 1, "dy": 1},
   "encoding": {"x": {"field": "d", "type": "temporal", "scale": {"domain": [1543989600000, 1566295200000]}, "axis": null},
     "y": {"field": "v", "type": "quantitative", "scale": {"domain": [0.88536, 0.98018], "nice": false, "zero": false}, "axis": null}, "text": {"field": "t", "type": "nominal"}}},
  {"data": {"values": [{"v": 80}, {"v": 20}]},
   "mark": {"type": "rule", "color": "#23239a", "strokeWidth": 1},
   "encoding": {"y": {"field": "v", "type": "quantitative", "scale": {"domain": [-76, 1096], "nice": false, "zero": false}, "axis": null}}},
  {"data": {"values": [
{"d":"2018-12-05","k":84,"dd":80},{"d":"2019-01-04","k":24,"dd":20},{"d":"2019-01-08","k":28,"dd":24},{"d":"2019-01-10","k":36,"dd":28},{"d":"2019-01-14","k":48,"dd":38},{"d":"2019-01-16","k":60,"dd":48},{"d":"2019-01-18","k":68,"dd":60},{"d":"2019-01-24","k":68,"dd":65},{"d":"2019-02-15","k":24,"dd":16},{"d":"2019-02-19","k":32,"dd":24},{"d":"2019-02-21","k":30,"dd":30},{"d":"2019-02-25","k":44,"dd":34},{"d":"2019-02-27","k":56,"dd":46},{"d":"2019-03-01","k":64,"dd":56},{"d":"2019-03-07","k":56,"dd":52},{"d":"2019-03-11","k":64,"dd":58},{"d":"2019-03-13","k":72,"dd":64},{"d":"2019-03-15","k":76,"dd":72},{"d":"2019-03-21","k":76,"dd":72},{"d":"2019-03-25","k":84,"dd":78},{"d":"2019-03-27","k":86,"dd":84},{"d":"2019-04-04","k":52,"dd":50},{"d":"2019-04-08","k":64,"dd":56},{"d":"2019-04-10","k":76,"dd":66},{"d":"2019-04-12","k":84,"dd":76},{"d":"2019-04-16","k":86,"dd":84},{"d":"2019-05-08","k":20,"dd":16},{"d":"2019-05-10","k":24,"dd":20},{"d":"2019-05-22","k":14,"dd":10},{"d":"2019-05-24","k":28,"dd":18},{"d":"2019-05-27","k":44,"dd":30},{"d":"2019-05-29","k":54.169,"dd":38.815}
   ]},
   "mark": {"type": "rule", "color": "#cdbdf0", "strokeWidth": 5.5},
   "encoding": {"x": {"field": "d", "type": "temporal", "scale": {"domain": [1543989600000, 1566295200000]}, "axis": null},
     "y": {"field": "k", "type": "quantitative", "scale": {"domain": [-76, 1096], "nice": false, "zero": false}, "axis": null}, "y2": {"field": "dd"}}},
  {"data": {"values": [
{"d":"2018-12-07","k":80,"dd":82},{"d":"2018-12-11","k":72,"dd":78},{"d":"2018-12-13","k":64,"dd":72},{"d":"2018-12-17","k":56,"dd":64},{"d":"2018-12-19","k":48,"dd":56},{"d":"2018-12-21","k":40,"dd":48},{"d":"2018-12-26","k":28,"dd":38},{"d":"2018-12-28","k":22,"dd":28},{"d":"2019-01-02","k":18,"dd":22},{"d":"2019-01-22","k":64,"dd":66},{"d":"2019-01-28","k":62,"dd":66},{"d":"2019-01-30","k":56,"dd":62},{"d":"2019-02-01","k":48,"dd":56},{"d":"2019-02-05","k":36,"dd":46},{"d":"2019-02-07","k":24,"dd":34},{"d":"2019-02-11","k":14,"dd":22},{"d":"2019-02-13","k":12,"dd":16},{"d":"2019-03-05","k":48,"dd":58},{"d":"2019-03-19","k":70,"dd":74},{"d":"2019-03-29","k":72,"dd":80},{"d":"2019-04-02","k":48,"dd":62},{"d":"2019-04-18","k":80,"dd":84},{"d":"2019-04-22","k":72,"dd":78},{"d":"2019-04-24","k":48,"dd":64},{"d":"2019-04-26","k":30,"dd":44},{"d":"2019-04-30","k":22,"dd":30},{"d":"2019-05-02","k":16,"dd":22},{"d":"2019-05-06","k":12,"dd":16},{"d":"2019-05-14","k":16,"dd":22},{"d":"2019-05-16","k":12,"dd":16},{"d":"2019-05-20","k":8,"dd":12}
   ]},
   "mark": {"type": "rule", "color": "#e8243c", "strokeWidth": 5.5},
   "encoding": {"x": {"field": "d", "type": "temporal", "scale": {"domain": [1543989600000, 1566295200000]}, "axis": null},
     "y": {"field": "k", "type": "quantitative", "scale": {"domain": [-76, 1096], "nice": false, "zero": false}, "axis": null}, "y2": {"field": "dd"}}},
  {"data": {"values": [{"d": "2019-08-20T10:00:00Z", "v": 100, "t": "100"}]},
   "mark": {"type": "text", "align": "left", "baseline": "middle", "fontSize": 5, "color": "#d9cc3c", "dx": 3},
   "encoding": {"x": {"field": "d", "type": "temporal", "scale": {"domain": [1543989600000, 1566295200000]}, "axis": null},
     "y": {"field": "v", "type": "quantitative", "scale": {"domain": [-76, 1096], "nice": false, "zero": false}, "axis": null}, "text": {"field": "t", "type": "nominal"}}},
  {"data": {"values": [{"d": "2019-08-20T10:00:00Z", "v": 54.169, "t": "54.169"}, {"d": "2019-08-20T10:00:00Z", "v": 38.815, "t": "38.815"}]},
   "mark": {"type": "text", "align": "left", "baseline": "middle", "fontSize": 5, "color": "#e84ae8", "dx": 3},
   "encoding": {"x": {"field": "d", "type": "temporal", "scale": {"domain": [1543989600000, 1566295200000]}, "axis": null},
     "y": {"field": "v", "type": "quantitative", "scale": {"domain": [-76, 1096], "nice": false, "zero": false}, "axis": null}, "text": {"field": "t", "type": "nominal"}}},
  {"data": {"values": [{"d": "2018-12-05T06:00:00Z", "v": 116, "t": "■ Stochastique (14 3 5)"}]},
   "mark": {"type": "text", "align": "left", "baseline": "top", "fontSize": 5, "color": "#d8d8d8", "dx": 1, "dy": 1},
   "encoding": {"x": {"field": "d", "type": "temporal", "scale": {"domain": [1543989600000, 1566295200000]}, "axis": null},
     "y": {"field": "v", "type": "quantitative", "scale": {"domain": [-76, 1096], "nice": false, "zero": false}, "axis": null}, "text": {"field": "t", "type": "nominal"}}},
  {"data": {"values": [
{"d":"2018-12-05","a":55},{"d":"2018-12-07","a":14},{"d":"2018-12-11","a":-41},{"d":"2018-12-13","a":-14},{"d":"2018-12-17","a":28},{"d":"2018-12-19","a":41},{"d":"2018-12-24","a":-41},{"d":"2018-12-27","a":-69},{"d":"2018-12-31","a":-28},{"d":"2019-01-04","a":14},{"d":"2019-01-08","a":41},{"d":"2019-01-10","a":69},{"d":"2019-01-15","a":41},{"d":"2019-01-18","a":0},{"d":"2019-01-22","a":55},{"d":"2019-01-25","a":14},{"d":"2019-01-29","a":-14},{"d":"2019-02-01","a":-55},{"d":"2019-02-05","a":-69},{"d":"2019-02-08","a":-41},{"d":"2019-02-12","a":28},{"d":"2019-02-14","a":-14},{"d":"2019-02-18","a":-55},{"d":"2019-02-21","a":-69},{"d":"2019-02-25","a":0},{"d":"2019-02-28","a":69},{"d":"2019-03-04","a":96},{"d":"2019-03-07","a":41},{"d":"2019-03-11","a":-28},{"d":"2019-03-14","a":28},{"d":"2019-03-18","a":55},{"d":"2019-03-21","a":82},{"d":"2019-03-25","a":96},{"d":"2019-03-28","a":14},{"d":"2019-04-01","a":-69},{"d":"2019-04-04","a":-14},{"d":"2019-04-08","a":55},{"d":"2019-04-11","a":82},{"d":"2019-04-15","a":55},{"d":"2019-04-18","a":-14},{"d":"2019-04-22","a":-55},{"d":"2019-04-25","a":-41},{"d":"2019-04-29","a":-14},{"d":"2019-05-02","a":28},{"d":"2019-05-06","a":41},{"d":"2019-05-09","a":-14},{"d":"2019-05-13","a":-69},{"d":"2019-05-16","a":-96},{"d":"2019-05-20","a":-41},{"d":"2019-05-23","a":28},{"d":"2019-05-27","a":76},{"d":"2019-05-29","a":82.112}
   ]},
   "mark": {"type": "line", "color": "#7a3cf0", "strokeWidth": 0.9},
   "encoding": {"x": {"field": "d", "type": "temporal", "scale": {"domain": [1543989600000, 1566295200000]},
       "axis": {"orient": "bottom", "tickSize": 0, "labelPadding": 2, "labelColor": "#d9cc3c", "labelFontSize": 5, "domain": false, "grid": false, "title": null,
         "values": [1544572800000, 1545350400000, 1546300800000, 1547424000000, 1548201600000, 1548979200000, 1549929600000, 1550707200000, 1551398400000, 1552435200000, 1553212800000, 1554076800000, 1554940800000, 1555891200000, 1556668800000, 1557446400000, 1558396800000, 1559347200000, 1560124800000, 1560902400000, 1561939200000, 1562630400000, 1563408000000, 1564617600000, 1565827200000],
         "labelExpr": "utcdate(datum.value) != 1 ? utcFormat(datum.value, '%d') : utcmonth(datum.value) == 0 ? '2019' : utcmonth(datum.value) == 1 ? 'févr.' : utcmonth(datum.value) == 2 ? 'mars' : utcmonth(datum.value) == 3 ? 'avr.' : utcmonth(datum.value) == 4 ? 'mai' : utcmonth(datum.value) == 5 ? 'juin' : utcmonth(datum.value) == 6 ? 'juil.' : 'août'"}},
     "y": {"field": "a", "type": "quantitative", "scale": {"domain": [-110, 3918.75], "nice": false, "zero": false}, "axis": null}}},
  {"data": {"values": [
{"d":"2018-12-05","b":40},{"d":"2018-12-07","b":35},{"d":"2018-12-11","b":-10},{"d":"2018-12-13","b":-30},{"d":"2018-12-17","b":0},{"d":"2018-12-19","b":25},{"d":"2018-12-24","b":0},{"d":"2018-12-27","b":-50},{"d":"2018-12-31","b":-50},{"d":"2019-01-04","b":-10},{"d":"2019-01-08","b":25},{"d":"2019-01-10","b":50},{"d":"2019-01-15","b":55},{"d":"2019-01-18","b":25},{"d":"2019-01-22","b":25},{"d":"2019-01-25","b":35},{"d":"2019-01-29","b":5},{"d":"2019-02-01","b":-30},{"d":"2019-02-05","b":-60},{"d":"2019-02-08","b":-55},{"d":"2019-02-12","b":-10},{"d":"2019-02-14","b":5},{"d":"2019-02-18","b":-30},{"d":"2019-02-21","b":-60},{"d":"2019-02-25","b":-35},{"d":"2019-02-28","b":35},{"d":"2019-03-04","b":75},{"d":"2019-03-07","b":70},{"d":"2019-03-11","b":10},{"d":"2019-03-14","b":0},{"d":"2019-03-18","b":40},{"d":"2019-03-21","b":65},{"d":"2019-03-25","b":88},{"d":"2019-03-28","b":55},{"d":"2019-04-01","b":-25},{"d":"2019-04-04","b":-45},{"d":"2019-04-08","b":15},{"d":"2019-04-11","b":65},{"d":"2019-04-15","b":70},{"d":"2019-04-18","b":25},{"d":"2019-04-22","b":-35},{"d":"2019-04-25","b":-50},{"d":"2019-04-29","b":-30},{"d":"2019-05-02","b":0},{"d":"2019-05-06","b":35},{"d":"2019-05-09","b":15},{"d":"2019-05-13","b":-40},{"d":"2019-05-16","b":-80},{"d":"2019-05-20","b":-70},{"d":"2019-05-23","b":-10},{"d":"2019-05-27","b":45},{"d":"2019-05-29","b":76.562}
   ]},
   "mark": {"type": "line", "color": "#b82ac0", "strokeWidth": 0.9},
   "encoding": {"x": {"field": "d", "type": "temporal", "scale": {"domain": [1543989600000, 1566295200000]}, "axis": null},
     "y": {"field": "b", "type": "quantitative", "scale": {"domain": [-110, 3918.75], "nice": false, "zero": false}, "axis": null}}},
  {"data": {"values": [{"d": "2019-08-20T10:00:00Z", "v": 82.112, "t": "82.112"}]},
   "mark": {"type": "text", "align": "left", "baseline": "bottom", "fontSize": 5, "color": "#e84ae8", "dx": 3, "dy": 1},
   "encoding": {"x": {"field": "d", "type": "temporal", "scale": {"domain": [1543989600000, 1566295200000]}, "axis": null},
     "y": {"field": "v", "type": "quantitative", "scale": {"domain": [-110, 3918.75], "nice": false, "zero": false}, "axis": null}, "text": {"field": "t", "type": "nominal"}}},
  {"data": {"values": [{"d": "2019-08-20T10:00:00Z", "v": 76.562, "t": "76.562"}]},
   "mark": {"type": "text", "align": "left", "baseline": "top", "fontSize": 5, "color": "#e84ae8", "dx": 3},
   "encoding": {"x": {"field": "d", "type": "temporal", "scale": {"domain": [1543989600000, 1566295200000]}, "axis": null},
     "y": {"field": "v", "type": "quantitative", "scale": {"domain": [-110, 3918.75], "nice": false, "zero": false}, "axis": null}, "text": {"field": "t", "type": "nominal"}}},
  {"data": {"values": [{"d": "2018-12-05T06:00:00Z", "v": 110, "t": "■ Ergodic Stochastic (3 3 3)"}]},
   "mark": {"type": "text", "align": "left", "baseline": "top", "fontSize": 5, "color": "#d8d8d8", "dx": 1, "dy": 1},
   "encoding": {"x": {"field": "d", "type": "temporal", "scale": {"domain": [1543989600000, 1566295200000]}, "axis": null},
     "y": {"field": "v", "type": "quantitative", "scale": {"domain": [-110, 3918.75], "nice": false, "zero": false}, "axis": null}, "text": {"field": "t", "type": "nominal"}}}
]
}
